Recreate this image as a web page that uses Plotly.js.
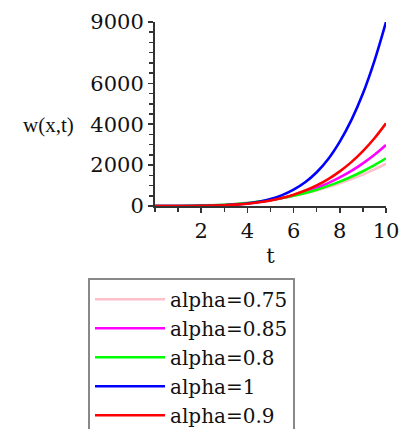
<!DOCTYPE html>
<html>
<head>
<meta charset="utf-8">
<script src="https://cdn.plot.ly/plotly-3.0.1.min.js"></script>
<style>
html,body{margin:0;padding:0;overflow:hidden;background:#fff;}
#chart{width:401px;height:450px;}
</style>
</head>
<body>
<div id="chart"></div>
<script>
// time values
const tVals = [0,0.5,1,1.5,2,2.5,3,3.5,4,4.5,5,5.5,6,6.5,7,7.5,8,8.5,9,9.5,10];
// w(x,t), one array per alpha
const wAlpha075 = [0,0.7,3.3,10,23,43,71,109,159,221,297,388,495,620,762,925,1108,1313,1541,1793,2070];
const wAlpha085 = [0,0.2,1.2,4.7,12.5,27,50,84,132,198,283,391,525,690,887,1122,1398,1717,2085,2506,2984];
const wAlpha080 = [0,0.3,2.3,8,19,36,63,100,149,213,292,388,504,641,800,984,1194,1433,1701,2000,2333];
const wAlpha1   = [0,0,0.3,1.5,5,14,32,65,120,205,340,530,800,1160,1650,2300,3150,4200,5500,7100,9000];
const wAlpha09  = [0,0.1,0.5,2.5,7.6,18,37,67,114,180,271,393,552,754,1007,1317,1695,2146,2683,3313,4046];

const seriesNames = ["alpha=0.75","alpha=0.85","alpha=0.8","alpha=1","alpha=0.9"];
const seriesColors = ["#ffc0cb","#ff00ff","#00ff00","#0000ff","#ff0000"];
const seriesData = [wAlpha075,wAlpha085,wAlpha080,wAlpha1,wAlpha09];

const xTicks = [2,4,6,8,10];
const yTicks = [0,2000,4000,6000,9000];

const traces = seriesData.map((w,i)=>({
  x: tVals, y: w, type:'scatter', mode:'lines',
  name: seriesNames[i], legendgroup: 'g'+i,
  line:{color: seriesColors[i], width:2.6, shape:'spline'},
  cliponaxis:false
}));

const tickFont = {family:'DejaVu Serif, serif', size:21, color:'#111'};

const layout = {
  width:401, height:450,
  margin:{l:155, r:15, t:22, b:244, pad:0},
  paper_bgcolor:'#fff', plot_bgcolor:'#fff',
  showlegend:true,
  xaxis:{
    range:[0,10], tickvals:xTicks, ticktext:xTicks.map(String),
    showgrid:false, zeroline:false, showline:true, linecolor:'#333', linewidth:2,
    ticks:'outside', ticklen:5, tickwidth:1.5, tickcolor:'#333',
    minor:{dtick:1, ticks:'outside', ticklen:4, tickwidth:1.5, tickcolor:'#333'},
    tickfont:tickFont,
    title:{text:'t', font:{family:'DejaVu Serif, serif', size:21, color:'#111'}, standoff:6}
  },
  yaxis:{
    range:[0,9000], tickvals:yTicks, ticktext:yTicks.map(String),
    showgrid:false, zeroline:false, showline:true, linecolor:'#333', linewidth:2,
    ticks:'outside', ticklen:5, tickwidth:1.5, tickcolor:'#333',
    minor:{dtick:500, ticks:'outside', ticklen:4, tickwidth:1.5, tickcolor:'#333'},
    tickfont:tickFont
  },
  annotations:[{
    text:'w(x,t)', xref:'paper', yref:'paper', x:-0.34, y:0.44,
    xanchor:'right', yanchor:'middle', showarrow:false,
    font:{family:'Liberation Serif, serif', size:21, color:'#111'}
  }],
  legend:{
    x:-0.29, y:-0.39, xanchor:'left', yanchor:'top',
    bordercolor:'#888', borderwidth:2, bgcolor:'#fff',
    font:{family:'DejaVu Serif, serif', size:20, color:'#111'},
    itemwidth:70, tracegroupgap:3, traceorder:'normal'
  }
};

Plotly.newPlot('chart', traces, layout, {displayModeBar:false, staticPlot:true});
</script>
</body>
</html>
